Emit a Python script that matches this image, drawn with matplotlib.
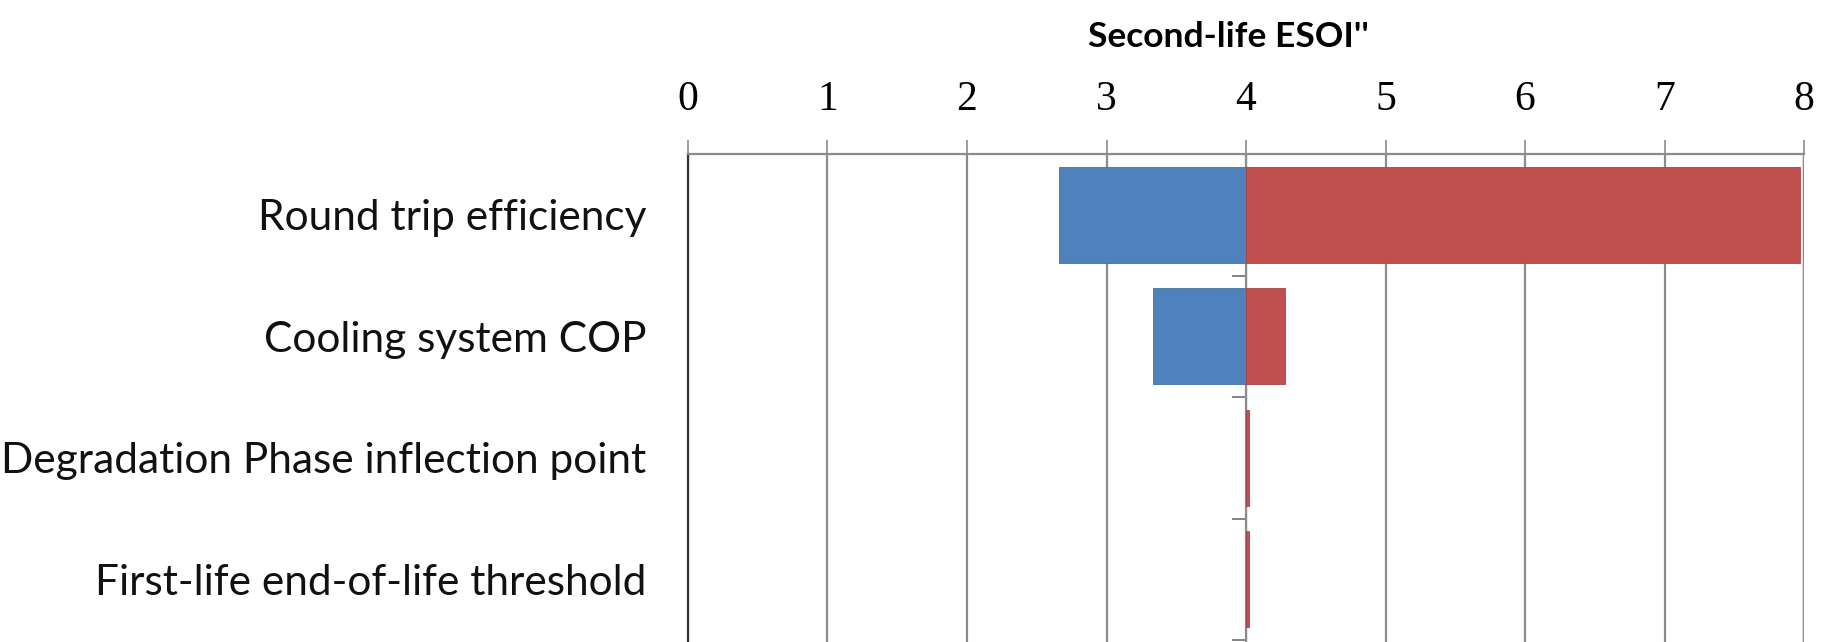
import matplotlib
matplotlib.use('Agg')
import matplotlib.pyplot as plt
import numpy as np

BLUE = '#4F81BD'
RED = '#C0504D'
GRID = '#8C8C8C'
AXIS = '#6E6E6E'

categories = ['Round trip efficiency', 'Cooling system COP',
              'Degradation Phase inflection point', 'First-life end-of-life threshold']
base = 4.0
low = [2.66, 3.33, 4.0, 4.0]     # ESOI at low end of parameter range
high = [7.97, 4.28, 4.02, 4.02]  # ESOI at high end of parameter range
xticks = [0, 1, 2, 3, 4, 5, 6, 7, 8]

fig = plt.figure(figsize=(18.39, 6.42), dpi=100)
fig.patch.set_facecolor('white')
ax = fig.add_axes([0.3741, 0.0, 0.6069, 0.7601])

y = np.arange(len(categories))
lo = np.array(low)
hi = np.array(high)
ax.barh(y, base - lo, left=lo, height=0.79, color=BLUE, edgecolor='#44719F',
        linewidth=0.6, zorder=3)
ax.barh(y, hi - base, left=base, height=0.79, color=RED, edgecolor='#A84643',
        linewidth=0.6, zorder=3)

ax.set_xlim(0, 8)
ax.set_ylim(3.5 + 2 / 121.5, -0.5)

# x axis on top
ax.xaxis.tick_top()
ax.xaxis.set_label_position('top')
ax.set_xticks(xticks)
ax.set_xticklabels([str(v) for v in xticks], family='Liberation Serif', fontsize=30)
ax.tick_params(axis='x', length=10, width=1.2, color=GRID, pad=15)
ax.set_xlabel("Second-life ESOI''", family='Lato', fontweight='bold', fontsize=25.5,
              labelpad=24)
ax.xaxis.label.set_x(0.484)
ax.xaxis.grid(True, color=GRID, linewidth=1.6, zorder=0)

# category labels on the left
ax.set_yticks(y)
ax.set_yticklabels(categories, family='Lato', fontsize=30.5, color='#111111')
ax.tick_params(axis='y', length=0, pad=30)

for s in ['bottom', 'right']:
    ax.spines[s].set_visible(False)
ax.spines['top'].set_color(GRID)
ax.spines['top'].set_linewidth(1.6)
ax.spines['left'].set_color('#333333')
ax.spines['left'].set_linewidth(1.6)
ax.axvline(8, color='#333333', linewidth=1.6, zorder=1)

# category axis crossing at x = 4
sec = ax.secondary_yaxis(0.5)
sec.set_yticks([0.5, 1.5, 2.5, 3.5])
sec.set_yticklabels([])
sec.tick_params(length=10, width=1.2, color=AXIS, direction='in')
sec.spines['left'].set_color(AXIS)
sec.spines['left'].set_linewidth(2.4)
sec.spines['left'].set_zorder(5)

fig.savefig('out.png', dpi=100, facecolor='white')
